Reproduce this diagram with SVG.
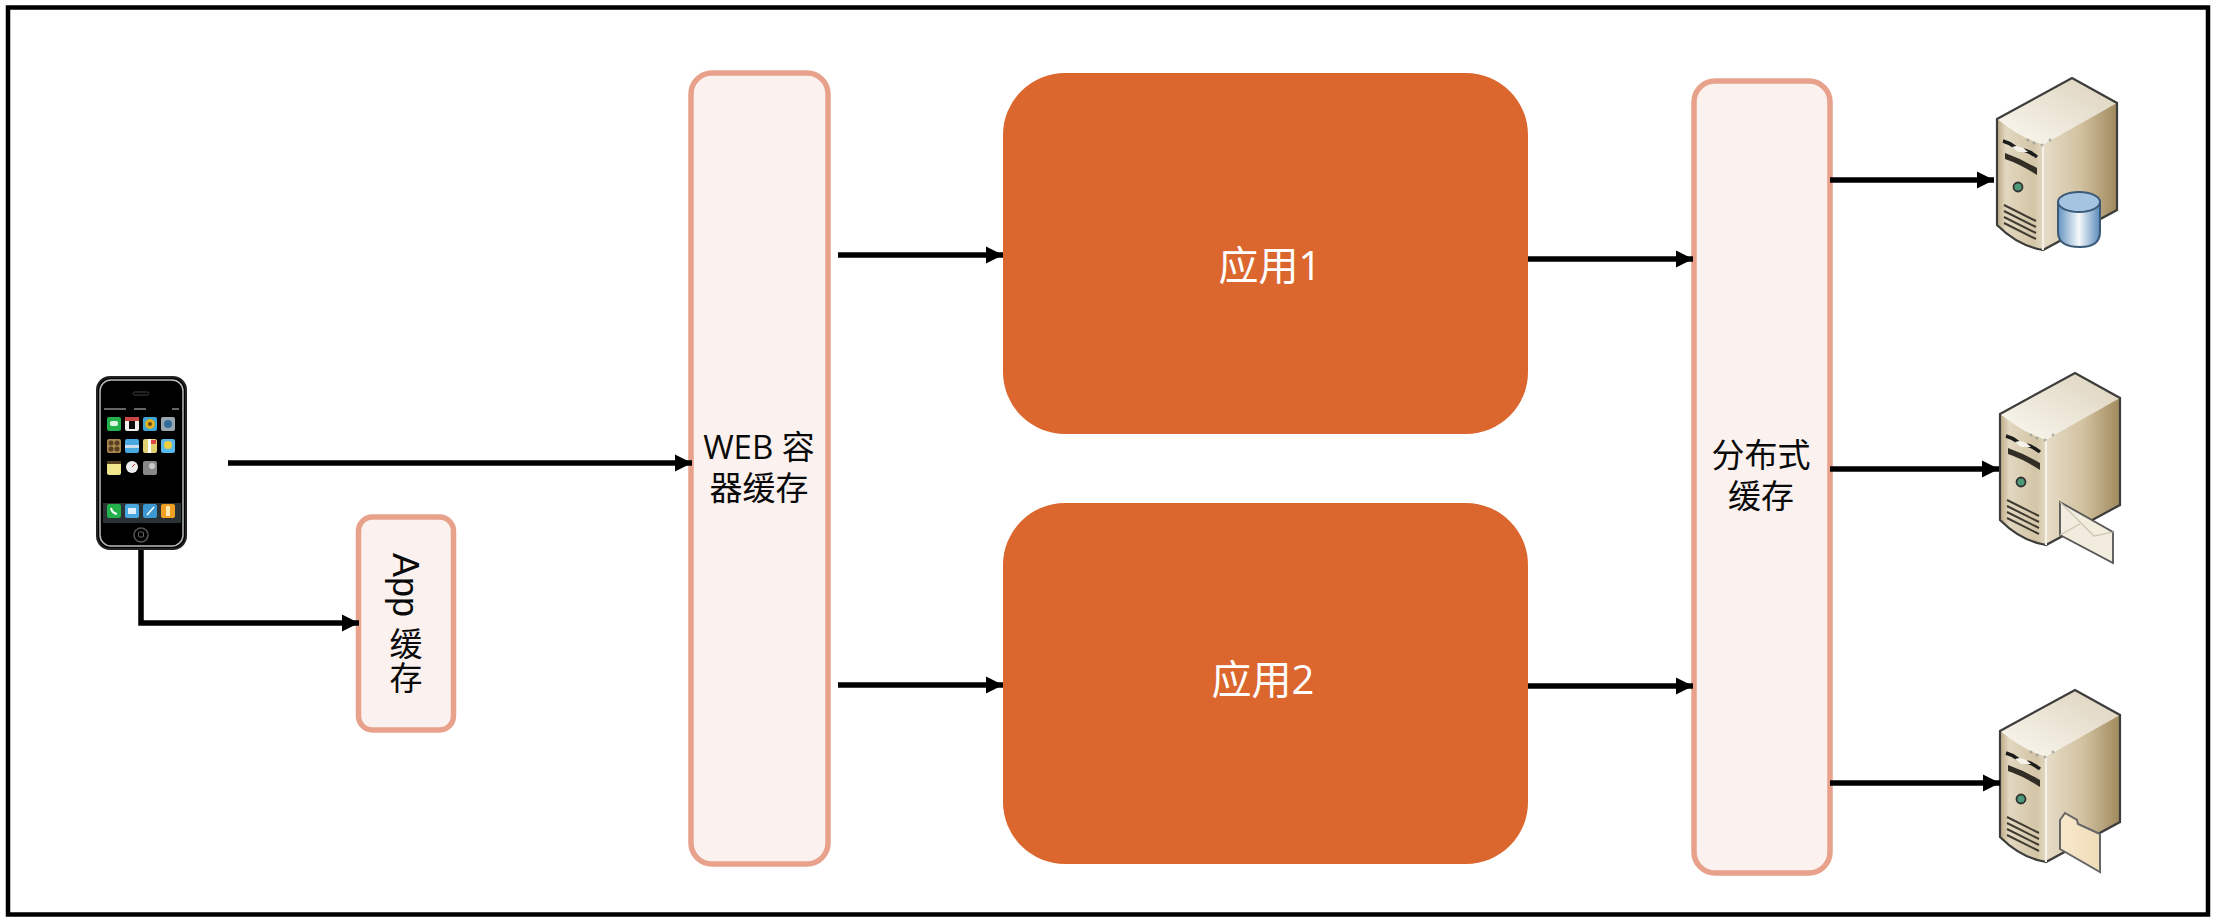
<svg xmlns="http://www.w3.org/2000/svg" width="2216" height="924" viewBox="0 0 2216 924">
<style>
.cache{fill:#FBF2F0;stroke:#E8A18B;stroke-width:5.500}
.app{fill:#DB662E}
.t{font-family:"Open Sans","Noto Sans CJK SC",sans-serif;font-size:33px;fill:#0a0a0a;text-anchor:middle}
.w{font-family:"Open Sans","Noto Sans CJK SC",sans-serif;font-size:40px;fill:#fff;text-anchor:middle}
.c{fill:none;stroke:#000;stroke-width:5.500}
.l{font-family:"Liberation Sans","Noto Sans CJK SC",sans-serif;fill:#0a0a0a}
</style>
<defs>
<marker id="a" markerUnits="userSpaceOnUse" markerWidth="18" markerHeight="18" refX="17" refY="9" orient="auto"><path d="M0 0.500L17 9L0 17.500z" fill="#000"/></marker>
<linearGradient id="top" x1="0" y1="1" x2="1" y2="0"><stop offset="0" stop-color="#fbf9f2"/><stop offset="1" stop-color="#dcd1bb"/></linearGradient>
<linearGradient id="front" x1="0" y1="0" x2="1" y2="0"><stop offset="0" stop-color="#bdaa85"/><stop offset=".2" stop-color="#e2d7c0"/><stop offset=".8" stop-color="#d3c5a6"/><stop offset="1" stop-color="#e2d8c2"/></linearGradient>
<linearGradient id="side" x1="0" y1="0" x2="1" y2="0"><stop offset="0" stop-color="#e6dcc8"/><stop offset=".5" stop-color="#d2c2a0"/><stop offset="1" stop-color="#a08a5e"/></linearGradient>
<linearGradient id="cyl" x1="0" y1="0" x2="1" y2="0"><stop offset="0" stop-color="#6494c0"/><stop offset=".5" stop-color="#f5f9fc"/><stop offset="1" stop-color="#5a8aba"/></linearGradient>
<linearGradient id="fold" x1="0" y1="0" x2="1" y2="0"><stop offset="0" stop-color="#f8e8cc"/><stop offset="1" stop-color="#efdcb8"/></linearGradient>
<filter id="b" x="-5%" y="-5%" width="110%" height="110%"><feGaussianBlur stdDeviation=".6"/></filter>
<g id="srv">
<path d="M37 59L112 18L157 43V150L83 190Q58 186 37 165Z" fill="#d9ccb0"/>
<path d="M37 59Q60 78 83 85L157 43L112 18Z" fill="url(#top)"/>
<path d="M37 59Q60 78 83 85V190Q58 186 37 165Z" fill="url(#front)"/>
<path d="M83 85L157 43V150L83 190Z" fill="url(#side)"/>
<path d="M37 59L112 18L157 43V150L83 190Q58 186 37 165Z" fill="none" stroke="#3c3c3a" stroke-width="2.200"/>
<path d="M83 85V190" stroke="#f6f2e8" stroke-width="2" fill="none"/>
<path d="M43 81Q50 83 55 87M64 90Q71 92 77 97" stroke="#1c1c1c" stroke-width="3.500" fill="none"/>
<path d="M45 93Q62 99 77 108V115Q60 104 45 99Z" fill="#332f28"/>
<path d="M52 87Q60 84 68 92L58 92Z" fill="#f5f2ea"/>
<circle cx="58" cy="127" r="4.500" fill="#4d9a7a" stroke="#333" stroke-width="1.800"/>
<path d="M44 145L76 161M44 151L76 167M44 157L76 173M44 163L76 179" stroke="#3f3b32" stroke-width="2" fill="none"/>
<g fill="none" stroke="#999" stroke-width="1"><circle cx="68" cy="80" r="1"/><circle cx="74" cy="83" r="1"/><circle cx="82" cy="85" r="1"/><circle cx="90" cy="80" r="1"/></g>
</g>
</defs>
<rect width="2216" height="924" fill="#fff"/>
<rect x="8" y="7.500" width="2200" height="907" fill="none" stroke="#000" stroke-width="4.500"/>
<g id="phone" filter="url(#b)">
<rect x="97" y="377" width="89" height="172" rx="13" fill="#000" stroke="#222" stroke-width="2"/>
<rect x="100" y="380" width="83" height="166" rx="11" fill="#000" stroke="#bbb" stroke-width="1.500"/>
<rect x="133" y="392" width="16" height="3" rx="1.500" fill="none" stroke="#444"/>
<path d="M104 409H126M134 409H146M172 409H179" stroke="#666" stroke-width="2" fill="none"/>
<rect x="103" y="503" width="78" height="20" fill="#2a3036"/>
<g id="icons">
<rect x="107" y="417" width="14" height="14" rx="2" fill="#22b14c"/><rect x="110" y="421" width="8" height="5" rx="2" fill="#dff5e4"/>
<rect x="125" y="417" width="14" height="14" rx="2" fill="#eee"/><rect x="125" y="417" width="14" height="4" fill="#c44"/><rect x="129" y="421" width="6" height="8" fill="#111"/>
<rect x="143" y="417" width="14" height="14" rx="2" fill="#3aa6d8"/><circle cx="150" cy="424" r="5" fill="#e0b020"/><circle cx="150" cy="424" r="2" fill="#6a4a10"/>
<rect x="161" y="417" width="14" height="14" rx="2" fill="#9aa4ae"/><circle cx="168" cy="424" r="4" fill="#2d6da0"/>
<rect x="107" y="439" width="14" height="14" rx="2" fill="#a88850"/><circle cx="111" cy="443" r="2.500" fill="#5a4020"/><circle cx="117" cy="443" r="2.500" fill="#5a4020"/><circle cx="111" cy="449" r="2.500" fill="#5a4020"/><circle cx="117" cy="449" r="2.500" fill="#5a4020"/>
<rect x="125" y="439" width="14" height="14" rx="2" fill="#4aa8e0"/><rect x="125" y="445" width="14" height="3" fill="#cde"/>
<rect x="143" y="439" width="14" height="14" rx="2" fill="#e0d070"/><rect x="148" y="439" width="3" height="14" fill="#fff"/><rect x="151" y="440" width="5" height="4" fill="#d44"/>
<rect x="161" y="439" width="14" height="14" rx="2" fill="#58b8e8"/><circle cx="168" cy="445" r="4" fill="#f0d040"/>
<rect x="107" y="461" width="14" height="14" rx="2" fill="#f0e48c"/><rect x="107" y="461" width="14" height="3" fill="#5a4020"/>
<circle cx="132" cy="467" r="6" fill="#eee"/><path d="M132 467l3-3" stroke="#c33" stroke-width="1"/>
<rect x="143" y="461" width="14" height="14" rx="2" fill="#888"/><circle cx="152" cy="466" r="3" fill="#ccc"/>
<rect x="107" y="504" width="14" height="14" rx="2" fill="#22b14c"/><path d="M111 508q1 5 6 6" stroke="#fff" stroke-width="2" fill="none"/>
<rect x="125" y="504" width="14" height="14" rx="2" fill="#4aa8e0"/><rect x="128" y="508" width="8" height="6" fill="#dfeef8"/>
<rect x="143" y="504" width="14" height="14" rx="2" fill="#3a98d0"/><path d="M147 515l7-8" stroke="#fff" stroke-width="1.500"/>
<rect x="161" y="504" width="14" height="14" rx="2" fill="#f0a020"/><rect x="166" y="506" width="4" height="10" fill="#ffe9b0"/>
</g>
<circle cx="141" cy="535" r="7" fill="none" stroke="#555" stroke-width="1.500"/>
<rect x="138.500" y="532" width="5" height="5" rx="1" fill="none" stroke="#666"/>
</g>
<g id="app-cache"><rect class="cache" x="358.500" y="517" width="95" height="213" rx="14"/>
<text class="l" transform="translate(393 553) rotate(90)" font-size="36">App</text>
<text class="l" x="406" y="656" font-size="33" text-anchor="middle">缓</text><text class="l" x="406" y="690" font-size="33" text-anchor="middle">存</text></g>
<g id="web-cache"><rect class="cache" x="691" y="73" width="137" height="791" rx="21"/>
<text class="t" x="759" y="459">WEB 容</text><text class="t" x="759" y="500">器缓存</text></g>
<g id="app1"><rect class="app" x="1003" y="73" width="525" height="361" rx="62"/><text class="w" x="1270" y="280">应用1</text></g>
<g id="app2"><rect class="app" x="1003" y="503" width="525" height="361" rx="62"/><text class="w" x="1263" y="694">应用2</text></g>
<g id="dist-cache"><rect class="cache" x="1694" y="81" width="136" height="792" rx="21"/>
<text class="t" x="1761" y="467">分布式</text><text class="t" x="1761" y="508">缓存</text></g>
<g id="server-db" filter="url(#b)"><use href="#srv" x="1960" y="60"/>
<path d="M2058 202V232Q2058 247 2080 247Q2100 247 2100 232V202Z" fill="url(#cyl)" stroke="#3a5a78" stroke-width="2"/>
<ellipse cx="2079" cy="202" rx="21" ry="10" fill="#a4c4e2" stroke="#3a5a78" stroke-width="2"/></g>
<g id="server-mail" filter="url(#b)"><use href="#srv" x="1963" y="355"/>
<path d="M2060 502L2113 532V563L2060 535Z" fill="#f1ecdd" stroke="#555" stroke-width="1.800"/>
<path d="M2060 502L2094 536L2113 532M2060 535L2080 524" fill="none" stroke="#c8c2b0" stroke-width="1.200"/></g>
<g id="server-folder" filter="url(#b)"><use href="#srv" x="1963" y="672"/>
<path d="M2060 820L2065 813L2077 820L2078 824L2100 834V872L2060 849Z" fill="url(#fold)" stroke="#666" stroke-width="2"/></g>
<g id="connectors">
<path class="c" d="M228 463H692" marker-end="url(#a)"/>
<path class="c" d="M141 550V623H359" marker-end="url(#a)"/>
<path class="c" d="M838 255H1003" marker-end="url(#a)"/>
<path class="c" d="M838 685H1003" marker-end="url(#a)"/>
<path class="c" d="M1528 259H1693" marker-end="url(#a)"/>
<path class="c" d="M1528 686H1693" marker-end="url(#a)"/>
<path class="c" d="M1830 180H1994" marker-end="url(#a)"/>
<path class="c" d="M1830 469H1999" marker-end="url(#a)"/>
<path class="c" d="M1830 783H2000" marker-end="url(#a)"/>
</g>
</svg>
